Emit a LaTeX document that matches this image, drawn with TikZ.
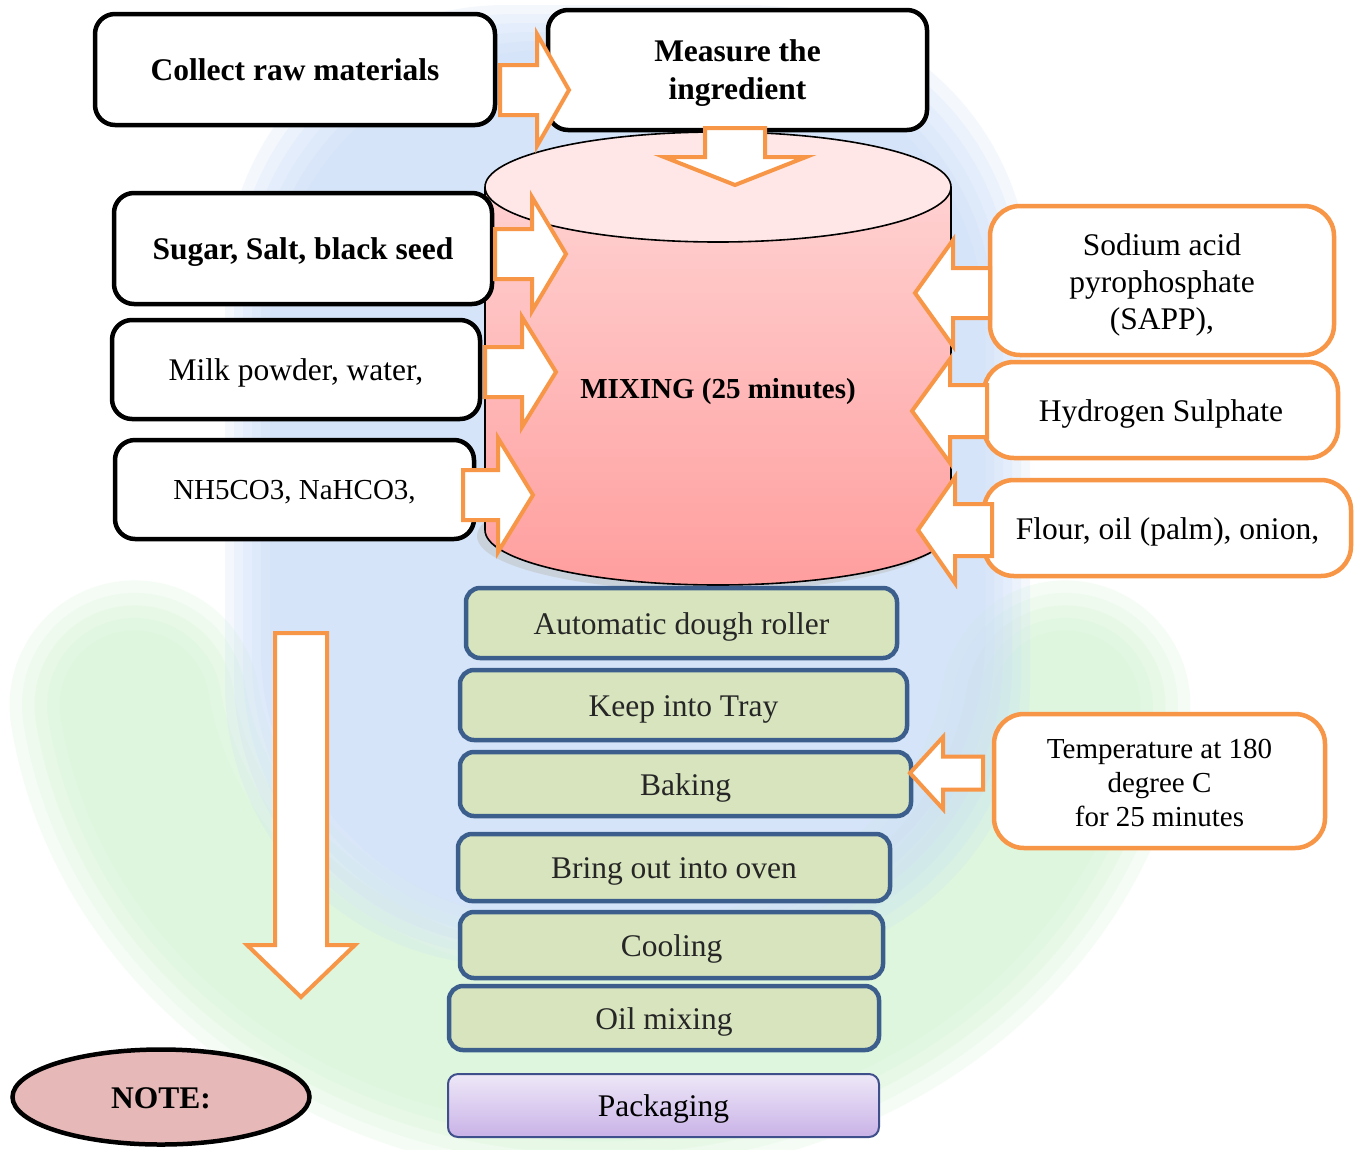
\documentclass[tikz,border=0pt]{standalone}
\usepackage{fontspec}
\setmainfont{Liberation Serif}
\usetikzlibrary{shapes.geometric}

\definecolor{arroworange}{HTML}{F79646}
\definecolor{stepfill}{HTML}{D7E4BD}
\definecolor{stepline}{HTML}{3B5E8C}
\definecolor{notefill}{HTML}{E6B8B7}
\definecolor{wmblue}{HTML}{C9DDF8}
\definecolor{wmgreen}{HTML}{D2F5D2}
\definecolor{cyltop}{HTML}{FFE7E7}
\definecolor{cylmid}{HTML}{FFD8D8}
\definecolor{cylbot}{HTML}{FF9E9E}
\definecolor{packtop}{HTML}{EEE8F8}
\definecolor{packbot}{HTML}{C9B2E7}
\definecolor{packline}{HTML}{3F4F8C}

\tikzset{
  bigfont/.style={font=\fontsize{31.5}{37}\selectfont},
  smallfont/.style={font=\fontsize{29}{34}\selectfont},
  oneline/.style={text height=22pt, text depth=0pt},
  inbox/.style={draw=black, line width=4.5pt, rounded corners=20pt, fill=white,
                align=center, inner sep=0pt, bigfont},
  addbox/.style={draw=arroworange, line width=4.5pt, rounded corners=30pt, fill=white,
                 align=center, inner sep=0pt, bigfont},
  stepbox/.style={draw=stepline, line width=4.5pt, rounded corners=14pt, fill=stepfill,
                  align=center, inner sep=0pt, text=black!85, bigfont, oneline},
  blockarrow/.style={draw=arroworange, line width=4pt, fill=white, line join=miter},
  textonly/.style={align=center, inner sep=0pt},
}

% block arrow lying flat: tail x, head-base x, tip x, axis y, half shaft, half head
\newcommand{\flatarrow}[6]{%
  \draw[blockarrow] (#1,#4+#5) -- (#2,#4+#5) -- (#2,#4+#6) -- (#3,#4)
    -- (#2,#4-#6) -- (#2,#4-#5) -- (#1,#4-#5) -- cycle;}
% block arrow standing upright: axis x, tail y, head-base y, tip y, half shaft, half head
\newcommand{\uprightarrow}[6]{%
  \draw[blockarrow] (#1-#5,#2) -- (#1-#5,#3) -- (#1-#6,#3) -- (#1,#4)
    -- (#1+#6,#3) -- (#1+#5,#3) -- (#1+#5,#2) -- cycle;}

\begin{document}
\begin{tikzpicture}[x=1pt, y=1pt]
\useasboundingbox (0,0) rectangle (1367,-1149);
\fill[white] (0,0) rectangle (1367,-1149);

% faint emblem in the background, built from soft layers
\foreach \w in {250,225,200,175,150}
  \draw[wmgreen, opacity=0.22, line width=\w pt, line cap=round]
    (600,-640) ++(188:470) arc[start angle=188, end angle=352, x radius=470pt, y radius=405pt];
\foreach \i in {0,...,5}
  \fill[wmblue, opacity=0.2, rounded corners=280pt]
    (225+9*\i,-5-9*\i) rectangle (1030-9*\i,-965+9*\i);

% mixing drum
\fill[black!25, opacity=0.5] (710,-536) ellipse [x radius=233pt, y radius=55pt];
\shade[top color=cylmid, bottom color=cylbot]
  (485,-187) -- (485,-530) arc[start angle=180, end angle=360, x radius=233pt, y radius=55pt]
  -- (951,-187) arc[start angle=0, end angle=180, x radius=233pt, y radius=55pt] -- cycle;
\draw[line width=1.6pt]
  (485,-187) -- (485,-530) arc[start angle=180, end angle=360, x radius=233pt, y radius=55pt]
  -- (951,-187);
\draw[line width=1.6pt, fill=cyltop] (718,-187) ellipse [x radius=233pt, y radius=55pt];
\node[smallfont, inner sep=0pt, text height=20pt, text depth=0pt] (mixing) at (718,-388)
  {\textbf{MIXING (25 minutes)}};

% input boxes on the left
\node[inbox, oneline, minimum width=400pt, minimum height=111pt] (collect) at (295,-69.5)
  {\textbf{Collect raw materials}};
\node[inbox, minimum width=379pt, minimum height=120pt] (measure) at (737.5,-70) {};
\node[textonly, bigfont, font=\fontsize{31.5}{38}\selectfont] (measuretxt)
  at ([yshift=-3pt]measure.center) {\textbf{Measure the}\\\textbf{ingredient}};
\node[inbox, oneline, minimum width=378pt, minimum height=111pt] (sugar) at (303,-248.5)
  {\textbf{Sugar, Salt, black seed}};
\node[inbox, oneline, minimum width=368pt, minimum height=99pt] (milk) at (296,-369.5)
  {Milk powder, water,};
\node[inbox, smallfont, text height=20pt, text depth=0pt, minimum width=359pt,
      minimum height=99pt] (nh) at (294.5,-489.5) {NH5CO3, NaHCO3,};

% input boxes on the right
\node[addbox, minimum width=344pt, minimum height=149pt] (sapp) at (1162,-280.5) {};
\node[textonly, bigfont] (sapptxt) at ([yshift=-4pt]sapp.center)
  {Sodium acid\\pyrophosphate\\(SAPP),};
\node[addbox, oneline, minimum width=354pt, minimum height=96pt] (hyd) at (1161,-410)
  {Hydrogen Sulphate};
\node[addbox, oneline, minimum width=367pt, minimum height=96pt] (flour) at (1167.5,-528)
  {Flour, oil (palm), onion,};
\node[addbox, minimum width=331pt, minimum height=134pt] (temp) at (1159.5,-781) {};
\node[textonly, smallfont] (temptxt) at ([yshift=-2pt]temp.center)
  {Temperature at 180\\degree C\\for 25 minutes};

% process steps
\node[stepbox, minimum width=431pt, minimum height=70pt] (roller) at (681.5,-623) {Automatic dough roller};
\node[stepbox, minimum width=447pt, minimum height=70pt] (tray) at (683.5,-705) {Keep into Tray};
\node[stepbox, minimum width=451pt, minimum height=64pt] (baking) at (685.5,-784) {Baking};
\node[stepbox, minimum width=432pt, minimum height=67pt] (oven) at (674,-867.5) {Bring out into oven};
\node[stepbox, minimum width=423pt, minimum height=66pt] (cooling) at (671.5,-945) {Cooling};
\node[stepbox, minimum width=430pt, minimum height=64pt] (oil) at (664,-1018) {Oil mixing};
\node[draw=packline, line width=2pt, rounded corners=10pt, top color=packtop, bottom color=packbot,
      minimum width=431pt, minimum height=63pt, inner sep=0pt, bigfont, oneline]
      (pack) at (663.5,-1105.5) {Packaging};

% note
\node[ellipse, draw=black, line width=4.5pt, fill=notefill, minimum width=297pt,
      minimum height=95pt, inner sep=0pt, bigfont, oneline] (note) at (161,-1097) {\textbf{NOTE:}};

% block arrows
\flatarrow{500}{537}{569}{-90}{25}{56}
\uprightarrow{735}{-128}{-157}{-185}{30}{71}
\flatarrow{495}{532}{566}{-254}{25}{57}
\flatarrow{485}{522}{556}{-372}{25}{55}
\flatarrow{463}{498}{533}{-495}{25}{57}
\flatarrow{990}{953}{915}{-293}{25}{53}
\flatarrow{987}{950}{912}{-411}{26}{52}
\flatarrow{992}{955}{918}{-530}{26}{53}
\flatarrow{983}{943}{910}{-773}{16.5}{36}
\uprightarrow{301}{-633}{-945}{-997}{26}{54}
\end{tikzpicture}
\end{document}
